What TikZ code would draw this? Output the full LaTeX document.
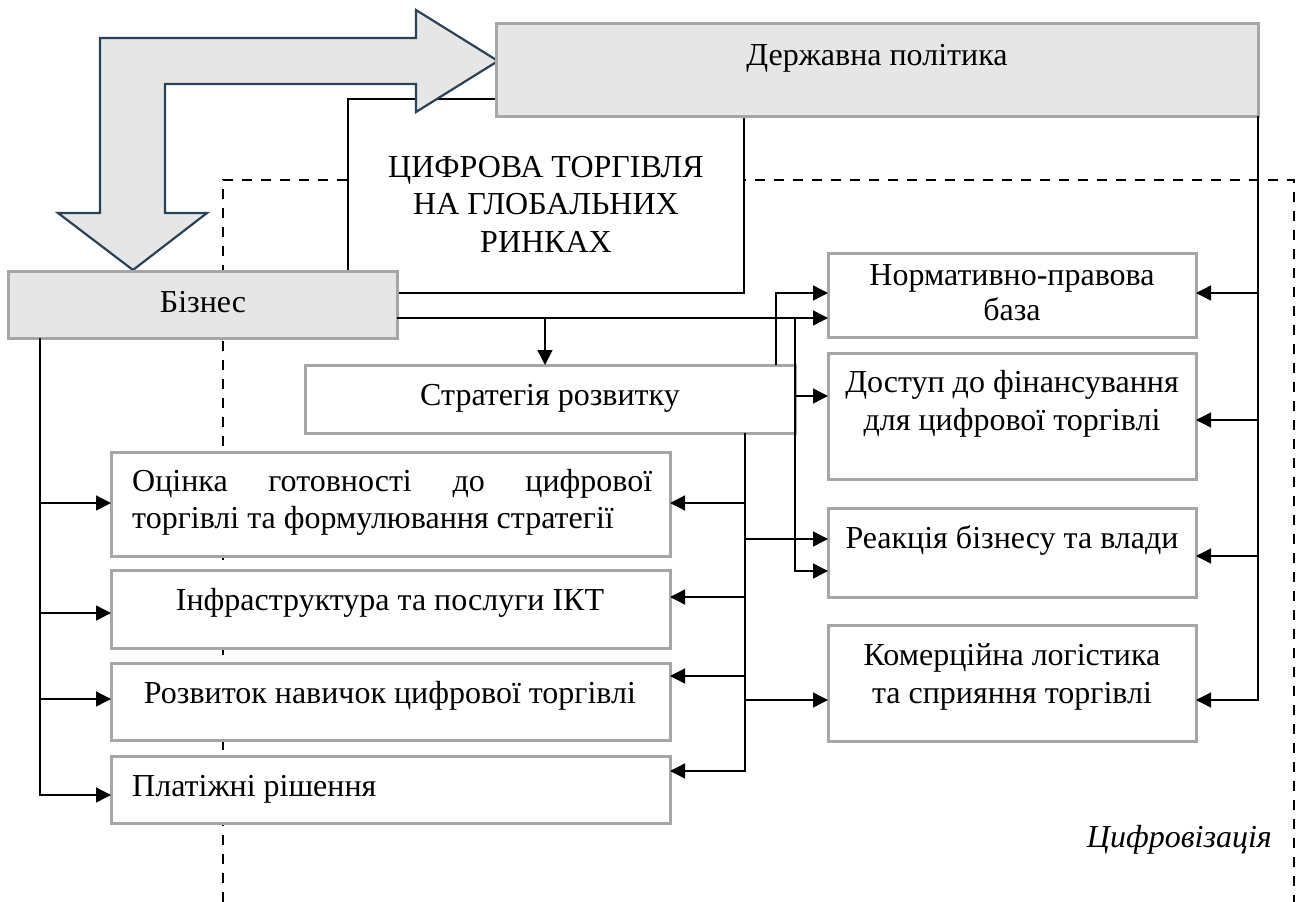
\documentclass[tikz,border=0pt]{standalone}
\usepackage{fontspec}
\setmainfont{Liberation Serif}
\usetikzlibrary{arrows.meta}
\definecolor{boxgray}{HTML}{E6E6E6}
\definecolor{edgegray}{HTML}{A6A6A6}
\definecolor{navyline}{HTML}{2C4257}
\begin{document}
\begin{tikzpicture}[x=1pt,y=-1pt,
  font=\fontsize{32}{38}\selectfont,
  box/.style={draw=edgegray, line width=3pt, fill=white, inner sep=0pt, outer sep=0pt},
  gbox/.style={box, fill=boxgray},
  txt/.style={anchor=base, inner sep=0pt},
  conn/.style={line width=1.4pt, -{Triangle[length=15pt,width=15pt]}},
  dashline/.style={line width=2.8pt, dash pattern=on 10pt off 9pt},
]
\useasboundingbox (0,0) rectangle (1296,902);

% dashed boundary "Цифровізація"
\draw[dashline] (223,902) -- (223,180) -- (1294,180) -- (1294,902);

% central frame
\node[draw=black, line width=2.8pt, fill=white, minimum width=396pt, minimum height=194pt, inner sep=0pt, outer sep=0pt] (frame) at (546,196) {};

% big block arrow
\draw[navyline, line width=2.2pt, fill=boxgray, line join=miter]
  (100,213) -- (58,213) -- (133,270) -- (207,213) -- (165,213) -- (165,84)
  -- (416,84) -- (416,112) -- (498,61) -- (416,10) -- (416,38) -- (100,38) -- cycle;

% boxes
\node[gbox, minimum width=762pt, minimum height=93pt] (dp) at (877,69.5) {};
\node[gbox, minimum width=389pt, minimum height=67pt] (biz) at (202.5,304.5) {};
\node[box, minimum width=490pt, minimum height=68pt] (strat) at (550,399) {};
\node[box, minimum width=368pt, minimum height=84pt] (norm) at (1012,295) {};
\node[box, minimum width=368pt, minimum height=126pt] (dost) at (1012,416) {};
\node[box, minimum width=368pt, minimum height=89pt] (reak) at (1012,552.5) {};
\node[box, minimum width=368pt, minimum height=116pt] (kom) at (1012,683) {};
\node[box, minimum width=559pt, minimum height=104pt] (ocin) at (390.5,504) {};
\node[box, minimum width=559pt, minimum height=78pt] (infr) at (390.5,609) {};
\node[box, minimum width=559pt, minimum height=77pt] (rozv) at (390.5,701.5) {};
\node[box, minimum width=559pt, minimum height=67pt] (plat) at (390.5,789.5) {};

% texts
\node[txt] (tdp) at (877,65) {Державна політика};
\node[txt] (tc1) at (546,177) {ЦИФРОВА ТОРГІВЛЯ};
\node[txt] (tc2) at (546,214) {НА ГЛОБАЛЬНИХ};
\node[txt] (tc3) at (546,252) {РИНКАХ};
\node[txt] (tbiz) at (203,312) {Бізнес};
\node[txt] (tstr) at (550,405) {Стратегія розвитку};
\node[txt] (tn1) at (1012,285) {Нормативно-правова};
\node[txt] (tn2) at (1012,320) {база};
\node[txt] (td1) at (1012,392) {Доступ до фінансування};
\node[txt] (td2) at (1012,430) {для цифрової торгівлі};
\node[txt] (tr) at (1012,548) {Реакція бізнесу та влади};
\node[txt] (tk1) at (1012,665) {Комерційна логістика};
\node[txt] (tk2) at (1012,703) {та сприяння торгівлі};
\node[txt, anchor=base west] (to1) at (132,491) {\hbox to 520pt{Оцінка\hfill готовності\hfill до\hfill цифрової}};
\node[txt, anchor=base west] (to2) at (132,528) {торгівлі та формулювання стратегії};
\node[txt] (ti) at (390,610) {Інфраструктура та послуги ІКТ};
\node[txt] (trz) at (390,703) {Розвиток навичок цифрової торгівлі};
\node[txt, anchor=base west] (tp) at (132,796) {Платіжні рішення};
\node[txt, anchor=base east, font=\fontsize{32}{38}\selectfont\itshape] (tcf) at (1272,847) {Цифровізація};

% junction points
\coordinate (jL) at (40,338);
\coordinate (jM) at (745,433);
\coordinate (jB) at (545,318);
\coordinate (jV) at (795,318);
\coordinate (jS) at (776,365);

% connectors from Бізнес
\draw[conn] ([yshift=-13.5pt]biz.east) -- ([yshift=-23pt]norm.west);
\draw[conn] (jB) -- (strat.north -| jB);
\draw[conn] (jV) |- ([yshift=20pt]dost.west);
\draw[conn] (jV) |- ([yshift=-18.5pt]reak.west);
\draw[conn] (jS) |- ([yshift=2pt]norm.west);

\draw[conn] (jL) |- ([yshift=1pt]ocin.west);
\draw[conn] (jL) |- ([yshift=-4pt]infr.west);
\draw[conn] (jL) |- ([yshift=2.5pt]rozv.west);
\draw[conn] (jL) |- ([yshift=-5.5pt]plat.west);

% connectors from Стратегія
\draw[conn] (jM) |- ([yshift=1pt]ocin.east);
\draw[conn] (jM) |- ([yshift=12pt]infr.east);
\draw[conn] (jM) |- ([yshift=25.5pt]rozv.east);
\draw[conn] (jM) |- ([yshift=18.5pt]plat.east);
\draw[conn] (jM) |- ([yshift=13.5pt]reak.west);
\draw[conn] (jM) |- ([yshift=-17pt]kom.west);

% connectors from Державна політика
\draw[conn] (dp.south east) |- ([yshift=2pt]norm.east);
\draw[conn] (dp.south east) |- ([yshift=-4pt]dost.east);
\draw[conn] (dp.south east) |- ([yshift=-3.5pt]reak.east);
\draw[conn] (dp.south east) |- ([yshift=-17pt]kom.east);
\end{tikzpicture}
\end{document}
